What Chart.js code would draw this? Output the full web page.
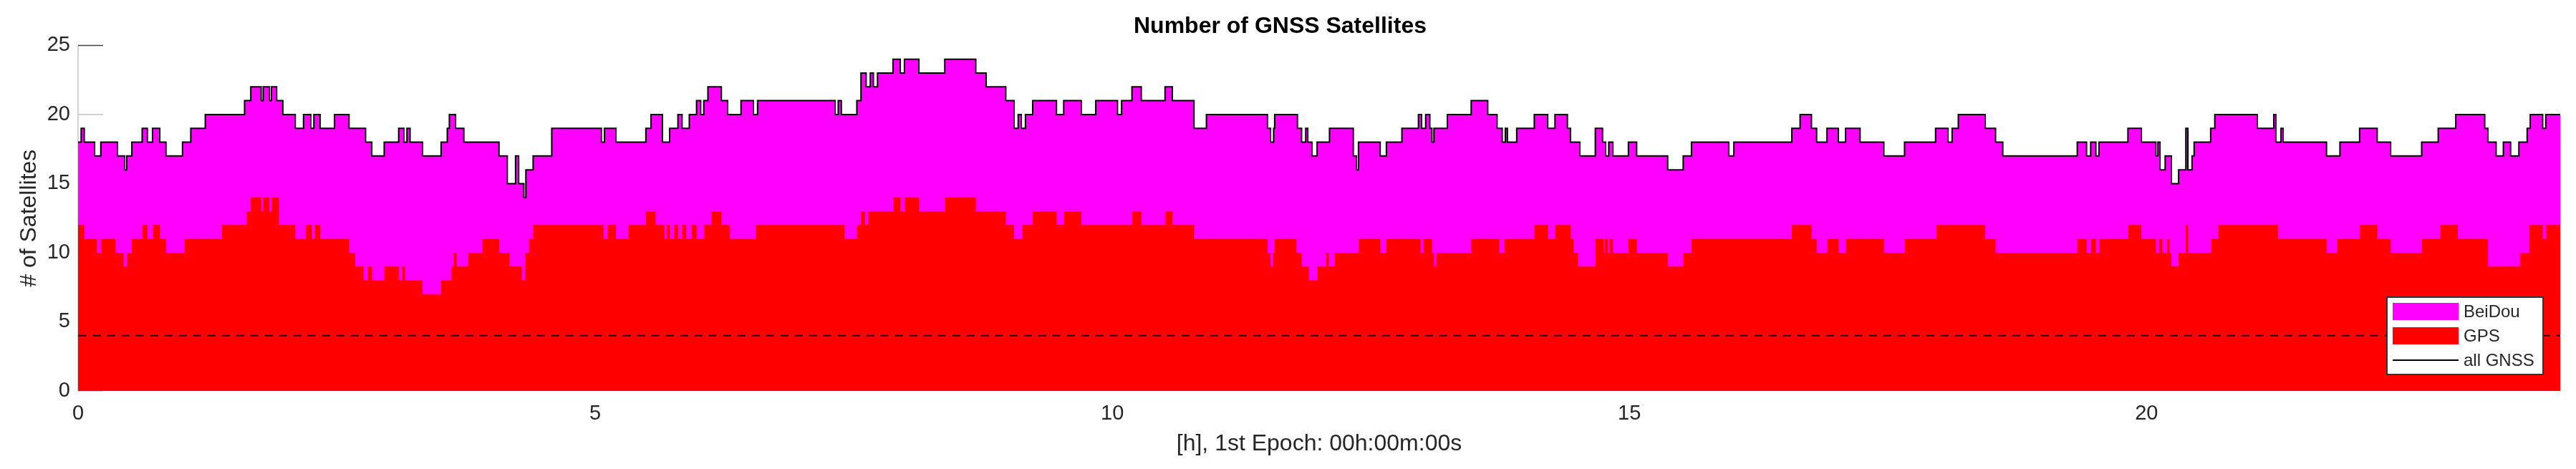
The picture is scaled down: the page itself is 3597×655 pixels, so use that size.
<!DOCTYPE html>
<html>
<head>
<meta charset="utf-8">
<title>Number of GNSS Satellites</title>
<script src="https://cdn.jsdelivr.net/npm/chart.js@4.4.1/dist/chart.umd.min.js"></script>
<style>
  html, body { margin: 0; padding: 0; background: #fff; }
  #wrap { width: 3597px; height: 655px; }
</style>
</head>
<body>
<div id="wrap"><canvas id="satChart" width="3597" height="655"></canvas></div>
<script>
// ===== DATA =====
// change points: the count holds from each hour until the next one
const gnssHours = [
  0.00, 0.03, 0.06, 0.16, 0.22, 0.38, 0.45, 0.47, 0.52, 0.62, 0.67, 0.72, 0.79, 0.85,
  1.01, 1.09, 1.23, 1.61, 1.67, 1.77, 1.79, 1.85, 1.87, 1.92, 1.98, 2.10, 2.18, 2.25,
  2.28, 2.34, 2.48, 2.62, 2.78, 2.84, 2.96, 3.10, 3.15, 3.18, 3.21, 3.33, 3.51, 3.57,
  3.59, 3.65, 3.73, 4.07, 4.15, 4.23, 4.26, 4.31, 4.33, 4.40, 4.58, 5.06, 5.09, 5.20,
  5.49, 5.54, 5.65, 5.72, 5.80, 5.84, 5.91, 5.98, 6.02, 6.05, 6.09, 6.22, 6.28, 6.41,
  6.53, 6.57, 7.32, 7.35, 7.38, 7.53, 7.57, 7.62, 7.66, 7.69, 7.73, 7.88, 7.95, 7.99,
  8.13, 8.38, 8.68, 8.78, 8.97, 9.05, 9.09, 9.12, 9.16, 9.23, 9.46, 9.53, 9.70, 9.84,
  10.05, 10.09, 10.19, 10.28, 10.51, 10.58, 10.79, 10.91, 11.50, 11.53, 11.56, 11.57,
  11.79, 11.83, 11.87, 11.89, 11.93, 11.98, 12.10, 12.33, 12.36, 12.38, 12.59, 12.65,
  12.80, 12.96, 12.99, 13.03, 13.07, 13.09, 13.11, 13.24, 13.47, 13.63, 13.72, 13.77,
  13.80, 13.82, 13.91, 14.08, 14.21, 14.28, 14.40, 14.43, 14.52, 14.67, 14.74, 14.77,
  14.80, 14.84, 14.99, 15.07, 15.37, 15.52, 15.60, 15.96, 16.01, 16.57, 16.65, 16.76,
  16.81, 16.91, 17.02, 17.09, 17.23, 17.46, 17.66, 17.96, 18.08, 18.12, 18.18, 18.44,
  18.54, 18.61, 19.33, 19.42, 19.46, 19.51, 19.54, 19.82, 19.95, 20.09, 20.11, 20.13,
  20.18, 20.24, 20.31, 20.38, 20.40, 20.44, 20.46, 20.62, 20.66, 21.07, 21.23, 21.25,
  21.30, 21.32, 21.74, 21.87, 22.06, 22.23, 22.36, 22.66, 22.82, 22.99, 23.27, 23.30,
  23.38, 23.45, 23.52, 23.60, 23.68, 23.71, 23.83, 23.86,
];
const gnssCounts = [
  18, 19, 18, 17, 18, 17, 16, 17, 18, 19, 18, 19, 18, 17,
  18, 19, 20, 21, 22, 21, 22, 21, 22, 21, 20, 19, 20, 19,
  20, 19, 20, 19, 18, 17, 18, 19, 18, 19, 18, 17, 18, 19,
  20, 19, 18, 17, 15, 17, 15, 14, 16, 17, 19, 18, 19, 18,
  19, 20, 18, 19, 20, 19, 20, 21, 20, 21, 22, 21, 20, 21,
  20, 21, 20, 21, 20, 21, 23, 22, 23, 22, 23, 24, 23, 24,
  23, 24, 23, 22, 21, 19, 20, 19, 20, 21, 20, 21, 20, 21,
  20, 21, 22, 21, 22, 21, 19, 20, 19, 18, 19, 20,
  19, 18, 19, 18, 17, 18, 19, 17, 16, 18, 17, 18,
  19, 20, 19, 20, 19, 18, 19, 20, 21, 20, 19, 18,
  19, 18, 19, 20, 19, 20, 19, 18, 17, 19, 18, 17,
  18, 17, 18, 17, 16, 17, 18, 17, 18, 19, 20, 19,
  18, 19, 18, 19, 18, 17, 18, 19, 18, 19, 20, 19,
  18, 17, 18, 17, 18, 17, 18, 19, 18, 17, 18, 16,
  17, 15, 16, 19, 16, 17, 18, 19, 20, 19, 20, 18,
  19, 18, 17, 18, 19, 18, 17, 18, 19, 20, 19, 18,
  17, 18, 17, 18, 19, 20, 19, 20,
];

const gpsHours = [
  0.00, 0.06, 0.18, 0.22, 0.36, 0.44, 0.47, 0.52, 0.62, 0.67, 0.72, 0.79, 0.85, 1.03,
  1.39, 1.63, 1.67, 1.77, 1.79, 1.85, 1.87, 1.94, 2.10, 2.20, 2.26, 2.29, 2.34, 2.62,
  2.68, 2.76, 2.80, 2.84, 2.96, 3.10, 3.13, 3.16, 3.33, 3.51, 3.61, 3.63, 3.66, 3.77,
  3.91, 4.07, 4.17, 4.29, 4.32, 4.36, 4.40, 5.08, 5.12, 5.20, 5.32, 5.49, 5.58, 5.67,
  5.69, 5.72, 5.76, 5.80, 5.84, 5.88, 5.93, 5.98, 6.05, 6.12, 6.22, 6.30, 6.55, 7.41,
  7.53, 7.57, 7.61, 7.64, 7.88, 7.95, 7.99, 8.13, 8.38, 8.68, 8.97, 9.05, 9.13, 9.23,
  9.46, 9.53, 9.70, 10.19, 10.28, 10.51, 10.58, 10.79, 11.50, 11.53, 11.55, 11.57,
  11.78, 11.83, 11.90, 11.98, 12.07, 12.09, 12.15, 12.38, 12.59, 12.65, 12.98, 13.01,
  13.09, 13.11, 13.13, 13.47, 13.74, 13.79, 14.08, 14.21, 14.28, 14.43, 14.46, 14.50,
  14.67, 14.75, 14.76, 14.79, 14.81, 14.84, 14.99, 15.07, 15.37, 15.52, 15.60, 16.57,
  16.76, 16.81, 16.91, 17.02, 17.09, 17.46, 17.66, 17.97, 18.44, 18.54, 19.33, 19.42,
  19.46, 19.51, 19.54, 19.82, 19.95, 20.09, 20.12, 20.15, 20.20, 20.22, 20.24, 20.31,
  20.38, 20.40, 20.62, 20.69, 21.27, 21.74, 21.84, 22.06, 22.23, 22.36, 22.66, 22.84,
  23.01, 23.30, 23.61, 23.70, 23.83, 23.86,
];
const gpsCounts = [
  12, 11, 10, 11, 10, 9, 10, 11, 12, 11, 12, 11, 10, 11,
  12, 13, 14, 13, 14, 13, 14, 12, 11, 12, 11, 12, 11, 10,
  9, 8, 9, 8, 9, 8, 9, 8, 7, 8, 9, 10, 9, 10,
  11, 10, 9, 8, 10, 11, 12, 11, 12, 11, 12, 13, 12, 11,
  12, 11, 12, 11, 12, 11, 12, 11, 12, 13, 12, 11, 12, 11,
  12, 13, 12, 13, 14, 13, 14, 13, 14, 13, 12, 11, 12, 13,
  12, 13, 12, 13, 12, 13, 12, 11, 10, 9, 10, 11,
  10, 9, 8, 9, 10, 9, 10, 11, 10, 11, 10, 11,
  10, 9, 10, 11, 10, 11, 12, 11, 12, 11, 10, 9,
  11, 10, 11, 10, 11, 10, 11, 10, 9, 10, 11, 12,
  11, 10, 11, 10, 11, 10, 11, 12, 11, 10, 11, 10,
  11, 10, 11, 12, 11, 10, 11, 10, 11, 10, 9, 10,
  12, 10, 11, 12, 11, 10, 11, 12, 11, 10, 11, 12,
  11, 9, 10, 12, 11, 12,
];

const minSatellites = 4;
const xMin = 0;
const xMax = 24;
const yMin = 0;
const yMax = 25;
const xTickValues = [0, 5, 10, 15, 20];
const yTickValues = [0, 5, 10, 15, 20, 25];

// ===== HELPERS =====
function toSteps(hours, counts) {
  const pts = hours.map((h, i) => ({ x: h, y: counts[i] }));
  pts.push({ x: xMax, y: counts[counts.length - 1] });
  return pts;
}

const FONT = "'Liberation Sans', Arial, Helvetica, sans-serif";
const TEXT_COLOR = "#262626";

// ===== PLUGINS =====
// MATLAB-like left axis with inward ticks, drawn under the areas
const axisLines = {
  id: "axisLines",
  beforeDatasetsDraw(chart) {
    const { ctx, chartArea, scales } = chart;
    ctx.save();
    ctx.lineWidth = 1.5;
    ctx.strokeStyle = "#c4c4c4";
    ctx.beginPath();
    ctx.moveTo(chartArea.left, chartArea.top);
    ctx.lineTo(chartArea.left, chartArea.bottom);
    ctx.stroke();
    yTickValues.forEach((v) => {
      const y = scales.y.getPixelForValue(v);
      ctx.strokeStyle = v === yMax ? "#404040" : "#c4c4c4";
      ctx.beginPath();
      ctx.moveTo(chartArea.left, y);
      ctx.lineTo(chartArea.left + 35, y);
      ctx.stroke();
    });
    ctx.restore();
  },
};

// boxed legend in the lower right corner of the plot
const boxLegend = {
  id: "boxLegend",
  afterDatasetsDraw(chart) {
    const { ctx, chartArea } = chart;
    const w = 218;
    const h = 108;
    const x0 = chartArea.right - 24 - w;
    const y0 = chartArea.bottom - 23 - h;
    ctx.save();
    ctx.fillStyle = "#fff";
    ctx.fillRect(x0, y0, w, h);
    ctx.lineWidth = 2;
    ctx.strokeStyle = "#333";
    ctx.strokeRect(x0, y0, w, h);

    const entries = chart.data.datasets
      .filter((ds) => ds.legendRank !== undefined)
      .sort((a, b) => a.legendRank - b.legendRank);
    ctx.font = "24px " + FONT;
    ctx.textBaseline = "middle";
    ctx.textAlign = "left";
    entries.forEach((ds, i) => {
      const cy = y0 + 20 + i * 34;
      if (ds.legendKind === "patch") {
        ctx.fillStyle = ds.backgroundColor;
        ctx.fillRect(x0 + 8, cy - 12, 92, 24);
      } else {
        ctx.strokeStyle = ds.borderColor;
        ctx.lineWidth = 2;
        ctx.beginPath();
        ctx.moveTo(x0 + 8, cy);
        ctx.lineTo(x0 + 100, cy);
        ctx.stroke();
      }
      ctx.fillStyle = TEXT_COLOR;
      ctx.fillText(ds.label, x0 + 107, cy + 1);
    });
    ctx.restore();
  },
};

// ===== CHART =====
new Chart(document.getElementById("satChart"), {
  type: "line",
  data: {
    datasets: [
      {
        label: "all GNSS",
        legendRank: 2,
        legendKind: "line",
        data: toSteps(gnssHours, gnssCounts),
        stepped: true,
        borderColor: "#000",
        borderWidth: 2,
        fill: false,
        pointRadius: 0,
      },
      {
        label: "threshold",
        data: [
          { x: xMin, y: minSatellites },
          { x: xMax, y: minSatellites },
        ],
        borderColor: "rgba(20,0,0,0.85)",
        borderWidth: 2,
        borderDash: [12, 8],
        fill: false,
        pointRadius: 0,
      },
      {
        label: "GPS",
        legendRank: 1,
        legendKind: "patch",
        data: toSteps(gpsHours, gpsCounts),
        stepped: true,
        backgroundColor: "#ff0000",
        borderColor: "rgba(0,0,0,0)",
        borderWidth: 0,
        fill: "origin",
        pointRadius: 0,
      },
      {
        label: "BeiDou",
        legendRank: 0,
        legendKind: "patch",
        data: toSteps(gnssHours, gnssCounts),
        stepped: true,
        backgroundColor: "#ff00ff",
        borderColor: "rgba(0,0,0,0)",
        borderWidth: 0,
        fill: "origin",
        pointRadius: 0,
      },
    ],
  },
  options: {
    responsive: false,
    animation: false,
    events: [],
    layout: { padding: { left: 0, right: 22, top: 0, bottom: 0 } },
    plugins: {
      legend: { display: false },
      tooltip: { enabled: false },
      title: {
        display: true,
        text: "Number of GNSS Satellites",
        color: "#000",
        font: { family: FONT, size: 32, weight: "bold", lineHeight: 1.2 },
        padding: { top: 18, bottom: 7 },
      },
    },
    scales: {
      x: {
        type: "linear",
        min: xMin,
        max: xMax,
        afterBuildTicks: (scale) => {
          scale.ticks = xTickValues.map((v) => ({ value: v }));
        },
        afterFit: (scale) => {
          scale.height = 109;
        },
        grid: { display: false, drawTicks: false },
        border: { display: false },
        ticks: {
          color: TEXT_COLOR,
          font: { family: FONT, size: 29 },
          padding: 15,
          maxRotation: 0,
        },
        title: {
          display: true,
          text: "[h], 1st Epoch: 00h:00m:00s",
          color: TEXT_COLOR,
          font: { family: FONT, size: 32, lineHeight: 1.2 },
          padding: { top: 0, bottom: 16 },
        },
      },
      y: {
        type: "linear",
        min: yMin,
        max: yMax,
        afterBuildTicks: (scale) => {
          scale.ticks = yTickValues.map((v) => ({ value: v }));
        },
        afterFit: (scale) => {
          scale.width = 109;
        },
        grid: { display: false, drawTicks: false },
        border: { display: false },
        ticks: {
          color: TEXT_COLOR,
          font: { family: FONT, size: 29 },
          padding: 11,
        },
        title: {
          display: true,
          text: "# of Satellites",
          color: TEXT_COLOR,
          font: { family: FONT, size: 32, lineHeight: 1.2 },
          padding: { top: 22, bottom: 0 },
        },
      },
    },
  },
  plugins: [axisLines, boxLegend],
});
</script>
</body>
</html>
